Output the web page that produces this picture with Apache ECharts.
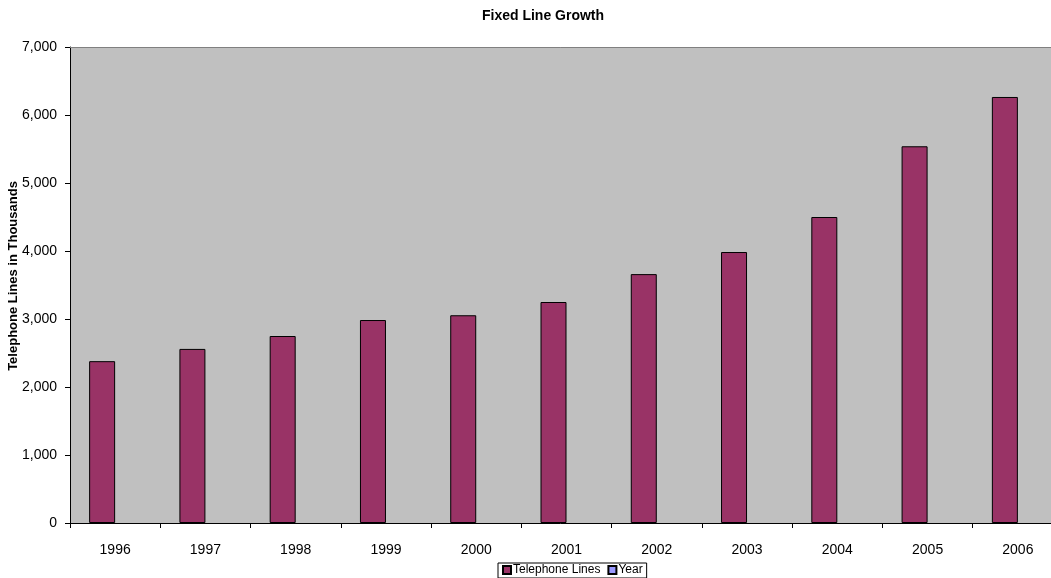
<!DOCTYPE html>
<html>
<head>
<meta charset="utf-8">
<script src="https://cdn.jsdelivr.net/npm/echarts@6/dist/echarts.min.js"></script>
<style>
  html, body { margin: 0; padding: 0; background: #fff; }
  #main { width: 1051px; height: 578px; }
</style>
</head>
<body>
<div id="main"></div>
<script>
// data
const years = ["1996", "1997", "1998", "1999", "2000", "2001", "2002", "2003", "2004", "2005", "2006"];
const telephoneLines = [2380, 2560, 2750, 2985, 3055, 3250, 3660, 3985, 4500, 5540, 6265];
const yearSeries = []; // empty second series, only takes its slot

const chartDom = document.getElementById("main");
const myChart = echarts.init(chartDom);

const font = "Liberation Sans, Arial, sans-serif";

const option = {
  animation: false,
  backgroundColor: "#ffffff",
  textStyle: { fontFamily: font },
  title: {
    text: "Fixed Line Growth",
    left: 538,
    textAlign: "center",
    top: 4,
    textStyle: { fontSize: 14, fontWeight: "bold", color: "#000", fontFamily: font }
  },
  grid: {
    left: 70,
    top: 47,
    width: 993,
    height: 476,
    outerBoundsMode: "none",
    containLabel: false,
    show: true,
    backgroundColor: "#c0c0c0",
    borderWidth: 0
  },
  legend: {
    top: 563,
    left: 498,
    padding: [1, 4, 2, 4],
    borderColor: "#000",
    borderWidth: 1,
    itemWidth: 8,
    itemHeight: 8,
    itemGap: 7,
    textStyle: { fontSize: 12, color: "#000", fontFamily: font, padding: [0, 0, 0, -3] },
    data: [
      { name: "Telephone Lines", icon: "rect" },
      { name: "Year", icon: "rect" }
    ]
  },
  xAxis: [
    {
      type: "category",
      data: years,
      axisLine: { lineStyle: { color: "#000", width: 1 } },
      axisTick: { show: true, length: 5, lineStyle: { color: "#000" } },
      axisLabel: { color: "#000", fontSize: 14, margin: 20, fontFamily: font }
    },
    {
      // top border of the plot area
      type: "category",
      data: years,
      position: "top",
      axisLine: { show: true, lineStyle: { color: "#808080", width: 1 } },
      axisTick: { show: false },
      axisLabel: { show: false }
    }
  ],
  yAxis: {
    type: "value",
    min: 0,
    max: 7000,
    interval: 1000,
    name: "Telephone Lines in Thousands",
    nameLocation: "middle",
    nameGap: 50,
    nameMoveOverlap: false,
    nameTextStyle: { fontSize: 13, fontWeight: "bold", color: "#000", fontFamily: font, padding: [0, 0, 0, 18] },
    axisLine: { show: true, lineStyle: { color: "#000", width: 1 } },
    axisTick: { show: true, length: 5, lineStyle: { color: "#000" } },
    splitLine: { show: false },
    axisLabel: {
      color: "#000",
      fontSize: 14,
      margin: 13,
      fontFamily: font,
      formatter: (v) => v.toLocaleString("en-US")
    }
  },
  series: [
    {
      name: "Telephone Lines",
      type: "bar",
      data: telephoneLines,
      barWidth: 26,
      barGap: "0%",
      itemStyle: { color: "#993366", borderColor: "#000", borderWidth: 1 }
    },
    {
      name: "Year",
      type: "bar",
      data: yearSeries,
      barWidth: 26,
      barGap: "0%",
      itemStyle: { color: "#9999ff", borderColor: "#000", borderWidth: 1 }
    }
  ]
};

option && myChart.setOption(option);
</script>
</body>
</html>
